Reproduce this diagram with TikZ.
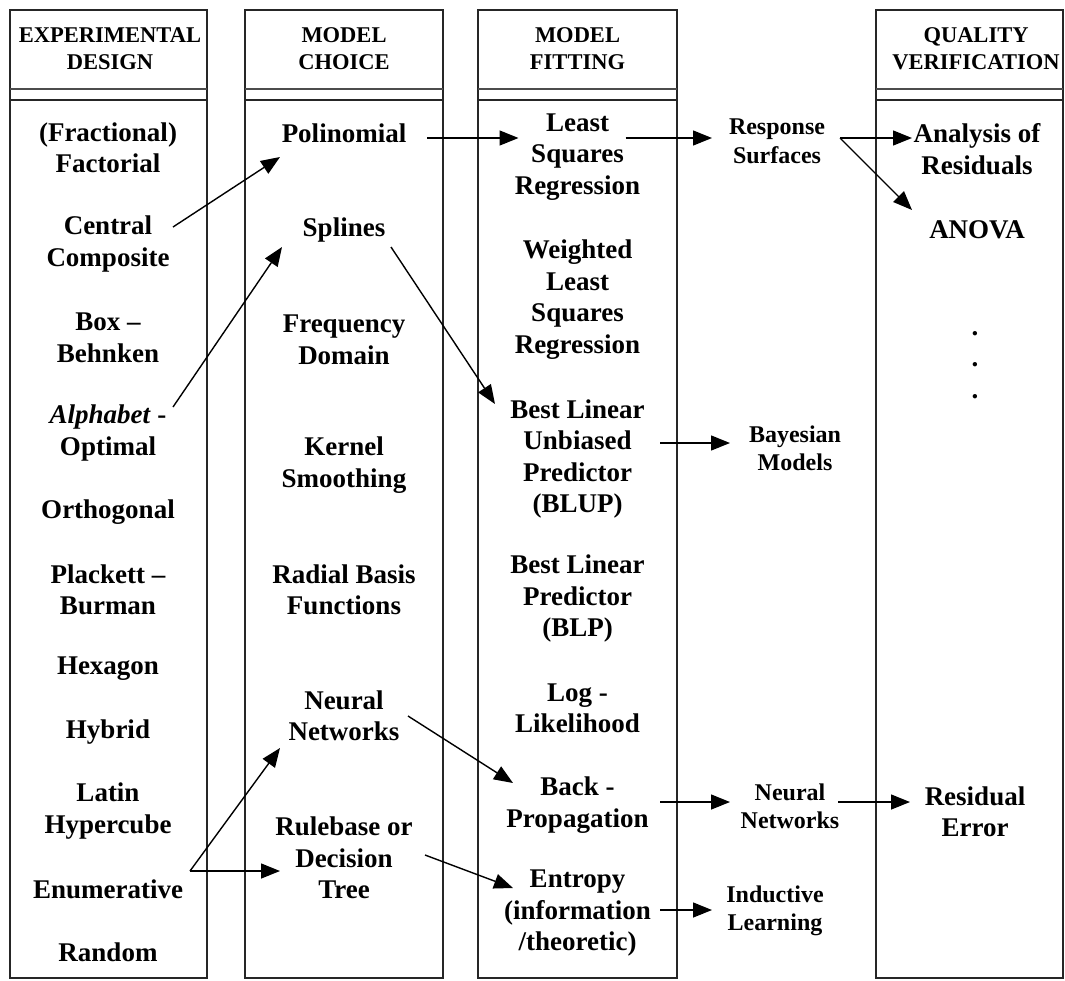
\documentclass[tikz,border=0pt]{standalone}
\usepackage{fontspec}
\setmainfont{Liberation Serif}
\usetikzlibrary{arrows.meta, calc}

\begin{document}
\begin{tikzpicture}[
    x=1pt, y=-1pt,
    every node/.style={inner sep=0pt, outer sep=0pt},
    colbox/.style={draw=black!85, line width=1.3pt,
                   minimum width=#1, minimum height=968pt},
    head/.style={font=\fontsize{22.5}{27}\selectfont\bfseries, align=center},
    item/.style={font=\fontsize{27}{31.5}\selectfont\bfseries, align=center},
    mid/.style={font=\fontsize{24}{28.5}\selectfont\bfseries, align=center},
    flow/.style={-{Triangle[length=19pt,width=15pt]}, line width=1.4pt}
  ]
  \useasboundingbox (0,0) rectangle (1065,980);

  % ===== COLUMNS =====
  \node[colbox=197pt] (design)  at (108.5,494) {};
  \node[colbox=198pt] (choice)  at (344,494)   {};
  \node[colbox=199pt] (fitting) at (577.5,494) {};
  \node[colbox=187pt] (verif)   at (969.5,494) {};
  \foreach \c in {design,choice,fitting,verif}{
    \draw[line width=2.6pt, black!70] ($(\c.north west)+(0,79)$) -- ($(\c.north east)+(0,79)$);
    \draw[line width=1.3pt, black!85] ($(\c.north west)+(0,90)$) -- ($(\c.north east)+(0,90)$);
  }
  \node[head] (hdesign)  at (110,48.5)   {EXPERIMENTAL\\DESIGN};
  \node[head] (hchoice)  at (344,48.5)   {MODEL\\CHOICE};
  \node[head] (hfitting) at (577.5,48.5) {MODEL\\FITTING};
  \node[head] (hverif)   at (976,48.5)   {QUALITY\\VERIFICATION};

  % ===== EXPERIMENTAL DESIGN =====
  \node[item] (fract)  at (108,148) {(Fractional)\\Factorial};
  \node[item] (cc)     at (108,244) {Central\\Composite};
  \node[item] (bb)     at (108,338) {Box --\\Behnken};
  \node[item] (alpha)  at (108,433) {\textit{Alphabet} -\\Optimal};
  \node[item] (ortho)  at (108,512) {Orthogonal};
  \node[item] (plack)  at (108,590) {Plackett --\\Burman};
  \node[item] (hexa)   at (108,669) {Hexagon};
  \node[item] (hybrid) at (108,732) {Hybrid};
  \node[item] (latin)  at (108,811) {Latin\\Hypercube};
  \node[item] (enum)   at (108,889) {Enumerative};
  \node[item] (rand)   at (108,952) {Random};

  % ===== MODEL CHOICE =====
  \node[item] (poly)    at (344,133) {Polinomial};
  \node[item] (splines) at (344,230) {Splines};
  \node[item] (freq)    at (344,340) {Frequency\\Domain};
  \node[item] (kernel)  at (344,465) {Kernel\\Smoothing};
  \node[item] (radial)  at (344,590) {Radial Basis\\Functions};
  \node[item] (nn)      at (344,716) {Neural\\Networks};
  \node[item] (rule)    at (344,858) {Rulebase or\\Decision\\Tree};

  % ===== MODEL FITTING =====
  \node[item] (lsq)      at (577.5,157)   {Least\\Squares\\Regression};
  \node[item] (wlsq)     at (577.5,299.5) {Weighted\\Least\\Squares\\Regression};
  \node[item] (blup)     at (577.5,459)   {Best Linear\\Unbiased\\Predictor\\(BLUP)};
  \node[item] (blp)      at (577.5,598.5) {Best Linear\\Predictor\\(BLP)};
  \node[item] (loglik)   at (577.5,708.5) {Log -\\Likelihood};
  \node[item] (backprop) at (577.5,805)   {Back -\\Propagation};
  \node[item] (entropy)  at (577.5,913.5) {Entropy\\(information\\/theoretic)};

  % ===== IN BETWEEN =====
  \node[mid] (resp)   at (777,141.5) {Response\\Surfaces};
  \node[mid] (bayes)  at (795,448.5) {Bayesian\\Models};
  \node[mid] (nn2)    at (790,806.5) {Neural\\Networks};
  \node[mid] (induct) at (775,911)   {Inductive\\Learning};

  % ===== QUALITY VERIFICATION =====
  \node[item] (analysis) at (977,149) {Analysis of\\Residuals};
  \node[item] (anova)    at (977,230) {ANOVA};
  \node[item] (dots)     at (975,365) {.\\.\\.};
  \node[item] (resid)    at (975,812) {Residual\\Error};

  % ===== FLOWS =====
  \draw[flow] ($(cc.center)+(65,-17)$)      -- ($(poly.center)+(-64,24)$);
  \draw[flow] ($(alpha.center)+(65,-26)$)   -- ($(splines.center)+(-62,17)$);
  \draw[flow] ($(poly.center)+(83,5)$)      -- ($(lsq.center)+(-59,-19)$);
  \draw[flow] ($(lsq.center)+(48,-19)$)     -- ($(resp.center)+(-65,-3.5)$);
  \draw[flow] ($(resp.center)+(63,-3.5)$)   -- ($(analysis.center)+(-65,-11)$);
  \draw[flow] ($(resp.center)+(63,-3.5)$)   -- ($(anova.center)+(-65,-20)$);
  \draw[flow] ($(splines.center)+(47,17)$)  -- ($(blup.center)+(-82.5,-55)$);
  \draw[flow] ($(blup.center)+(82.5,-16)$)  -- ($(bayes.center)+(-65,-5.5)$);
  \draw[flow] ($(nn.center)+(64,0)$)        -- ($(backprop.center)+(-64.5,-22)$);
  \draw[flow] ($(backprop.center)+(82.5,-3)$) -- ($(nn2.center)+(-60,-4.5)$);
  \draw[flow] ($(nn2.center)+(48,-4.5)$)    -- ($(resid.center)+(-65,-10)$);
  \draw[flow] ($(enum.center)+(82,-18)$)    -- ($(nn.center)+(-64,32)$);
  \draw[flow] ($(enum.center)+(82,-18)$)    -- ($(rule.center)+(-64,13)$);
  \draw[flow] ($(rule.center)+(81,-3)$)     -- ($(entropy.center)+(-64.5,-25.5)$);
  \draw[flow] ($(entropy.center)+(82.5,-3.5)$) -- ($(induct.center)+(-63,-1)$);

\end{tikzpicture}
\end{document}
